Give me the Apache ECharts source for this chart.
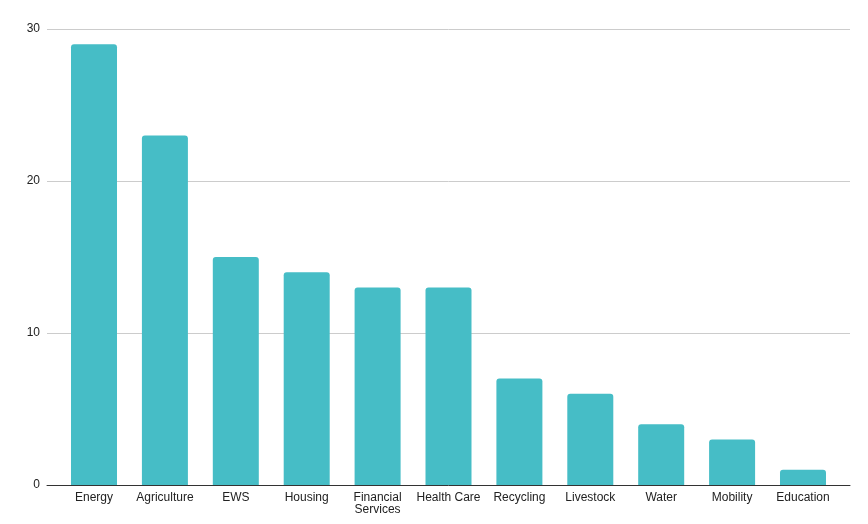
<!DOCTYPE html>
<html>
<head>
<meta charset="utf-8">
<script src="https://cdn.jsdelivr.net/npm/echarts@6/dist/echarts.min.js"></script>
<style>html,body{margin:0;padding:0;background:#fff}#c{width:868px;height:524px}</style>
</head>
<body>
<div id="c"></div>
<script>
const categories = ['Energy', 'Agriculture', 'EWS', 'Housing', 'Financial\nServices', 'Health Care', 'Recycling', 'Livestock', 'Water', 'Mobility', 'Education'];
const values = [29, 23, 15, 14, 13, 13, 7, 6, 4, 3, 1];
const yTicks = [0, 10, 20, 30];

const chart = echarts.init(document.getElementById('c'), null, {renderer: 'canvas'});
const idx = categories.map((_, i) => i);
chart.setOption({
  animation: false,
  backgroundColor: '#ffffff',
  grid: {left: 47, right: 18, top: 29, bottom: 39},
  xAxis: {
    type: 'value',
    min: -0.663,
    max: categories.length - 1 + 0.663,
    splitLine: {show: false},
    axisTick: {show: false},
    axisLine: {show: true, onZero: true, lineStyle: {color: '#333333', width: 1}},
    axisLabel: {
      customValues: idx,
      formatter: v => categories[Math.round(v)],
      color: '#222222',
      fontFamily: 'Liberation Sans, Arial, sans-serif',
      fontSize: 12,
      lineHeight: 12,
      margin: 7,
      align: 'center',
      verticalAlign: 'top'
    }
  },
  yAxis: {
    type: 'value',
    min: 0,
    max: 30,
    interval: 10,
    axisLine: {show: false},
    axisTick: {show: false},
    splitLine: {lineStyle: {color: '#cccccc', width: 1}},
    axisLabel: {
      customValues: yTicks,
      color: '#222222',
      fontFamily: 'Liberation Sans, Arial, sans-serif',
      fontSize: 12,
      margin: 7
    }
  },
  series: [{
    type: 'bar',
    data: values.map((v, i) => [i, v]),
    barWidth: 46,
    itemStyle: {color: '#46bdc6', borderRadius: [3, 3, 0, 0]}
  }]
});
</script>
</body>
</html>
